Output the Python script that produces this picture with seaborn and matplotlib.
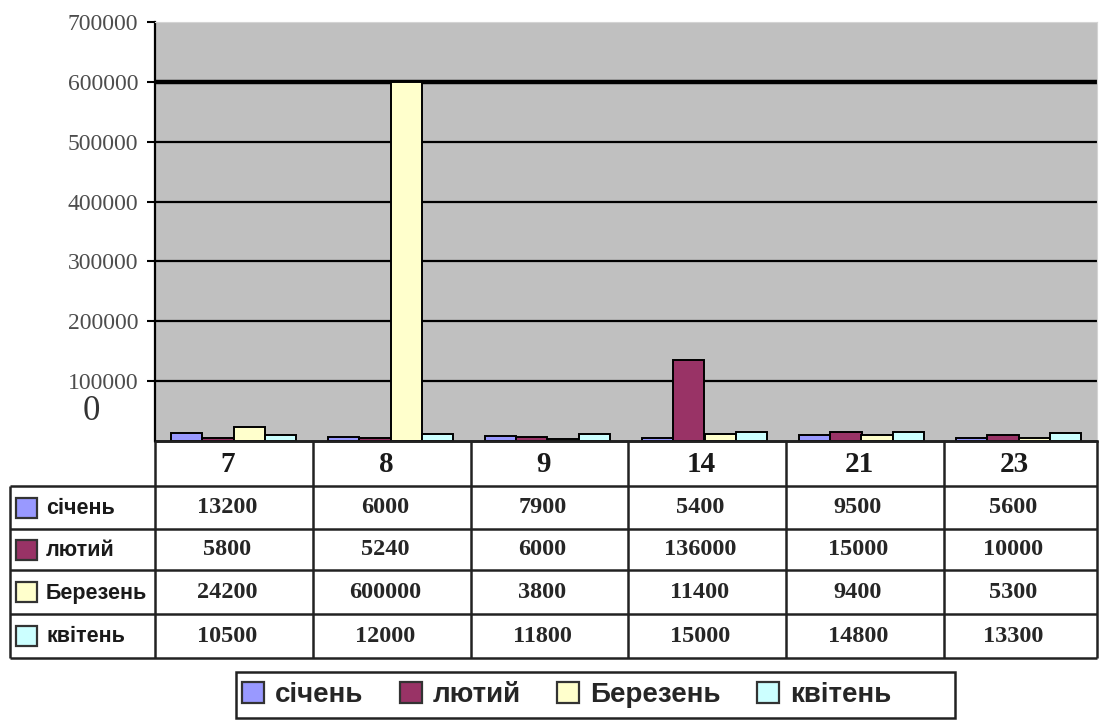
import numpy as np
import pandas as pd
import matplotlib
matplotlib.use("Agg")
import matplotlib.pyplot as plt
from matplotlib.patches import Patch, Rectangle
import seaborn as sns

# Data
days = ["7", "8", "9", "14", "21", "23"]
months = ["січень", "лютий", "Березень", "квітень"]
sichen = [13200, 6000, 7900, 5400, 9500, 5600]
lyutyi = [5800, 5240, 6000, 136000, 15000, 10000]
berezen = [24200, 600000, 3800, 11400, 9400, 5300]
kviten = [10500, 12000, 11800, 15000, 14800, 13300]
y_ticks = [100000, 200000, 300000, 400000, 500000, 600000, 700000]

colors = ["#9999FF", "#993366", "#FFFFCC", "#CCFFFF"]
series = [sichen, lyutyi, berezen, kviten]

df = pd.DataFrame({
    "day": np.tile(days, len(months)),
    "month": np.repeat(months, len(days)),
    "value": np.concatenate(series),
})

sns.set_style("white")
plt.rcParams["font.family"] = ["Liberation Sans", "DejaVu Sans"]
SERIF = ["Liberation Serif", "DejaVu Serif"]
SANS = ["Liberation Sans", "DejaVu Sans"]

W, H = 1100, 720
fig = plt.figure(figsize=(W / 100, H / 100), dpi=100)
fig.patch.set_facecolor("white")


def fx(px):
    return px / W


def fy(py):
    return 1 - py / H


# Plot area
X0, X1, YT, YB = 155, 1097, 22, 441
ax = fig.add_axes([fx(X0), fy(YB), fx(X1) - fx(X0), fy(YT) - fy(YB)])
ax.set_facecolor("#C0C0C0")

for t in y_ticks[:-1]:
    ax.axhline(t, color="black", lw=3.2 if t == 600000 else 1.6, zorder=1)

sns.barplot(
    data=df, x="day", y="value", hue="month",
    order=days, hue_order=months, palette=colors, saturation=1,
    edgecolor="black", linewidth=1.4, width=0.8, legend=False,
    ax=ax, zorder=3,
)

ax.set_xlim(-0.5, len(days) - 0.5)
ax.set_ylim(0, 700000)
ax.set_xticks([])
ax.set_yticks(y_ticks)
ax.set_yticklabels([str(t) for t in y_ticks])
ax.set_xlabel("")
ax.set_ylabel("")
ax.tick_params(axis="y", left=True, length=6, width=1.5, color="black",
               labelsize=17, labelcolor="#4d4d4d", pad=6)
for lbl in ax.get_yticklabels():
    lbl.set_fontfamily(SERIF)
ax.spines["left"].set_color("black")
ax.spines["left"].set_linewidth(1.6)
ax.spines["bottom"].set_color("black")
ax.spines["bottom"].set_linewidth(1.8)
ax.spines["top"].set_color("#d4d4d4")
ax.spines["right"].set_color("#d4d4d4")

fig.text(fx(91), fy(412), "0", fontsize=25, family=SERIF, color="#333333",
         ha="center", va="center")

# Data table below the plot
ov = fig.add_axes([0, 0, 1, 1], zorder=5)
ov.set_xlim(0, W)
ov.set_ylim(H, 0)
ov.axis("off")
ov.patch.set_alpha(0)

col_edges = [155, 313, 471, 628, 786, 944, 1097]
row_edges = [441, 486, 529, 570, 614, 658]
lc, lw = "#222222", 1.8
ov.hlines(row_edges[0], col_edges[0], col_edges[-1], color=lc, lw=lw)
ov.hlines(row_edges[1:], 10, col_edges[-1], color=lc, lw=lw)
ov.vlines(col_edges, row_edges[0], row_edges[-1], color=lc, lw=lw)
ov.vlines(10, row_edges[1], row_edges[-1], color=lc, lw=lw)

for i, d in enumerate(days):
    cx = (col_edges[i] + col_edges[i + 1]) / 2 - 6
    cy = (row_edges[0] + row_edges[1]) / 2 + 1
    ov.text(cx, cy, d, fontsize=21, fontweight="bold", family=SERIF,
            color="#1a1a1a", ha="center", va="center")

for r, vals in enumerate(series):
    cy = (row_edges[r + 1] + row_edges[r + 2]) / 2
    for i, v in enumerate(vals):
        cx = (col_edges[i] + col_edges[i + 1]) / 2 - 7
        ov.text(cx, cy, f"{v}", fontsize=17.5, fontweight="bold", family=SERIF,
                color="#262626", ha="center", va="center")
    ov.add_patch(Rectangle((16, cy - 10), 21, 20, facecolor=colors[r],
                           edgecolor="#333333", lw=1.6))
    ov.text(46, cy + 1, months[r], fontsize=15.5, fontweight="bold", family=SANS,
            color="#1a1a1a", ha="left", va="center")

# Legend
ov.add_patch(Rectangle((236, 672), 955 - 236, 46, facecolor="white",
                       edgecolor=lc, lw=1.8, zorder=1))
handles = [Patch(facecolor=c, edgecolor="#333333", lw=1.6) for c in colors]
leg = fig.legend(
    handles, months, loc="center left",
    bbox_to_anchor=(fx(239), fy(695)), ncol=4, frameon=False,
    prop={"family": SANS, "weight": "bold", "size": 20},
    handlelength=0.8, handleheight=0.8, handletextpad=0.4,
    columnspacing=1.3, borderaxespad=0, borderpad=0.1,
)
leg.set_zorder(10)

fig.savefig("out.png", dpi=100, facecolor="white")
